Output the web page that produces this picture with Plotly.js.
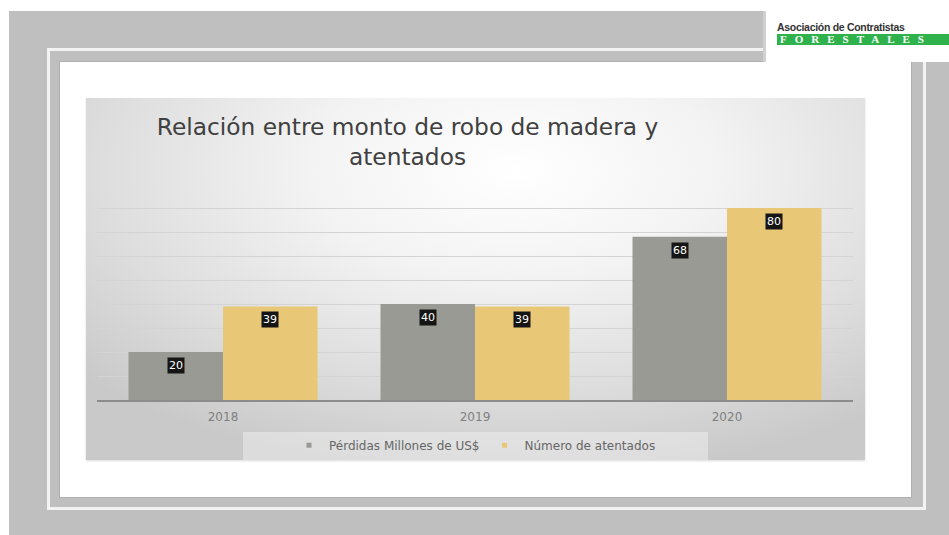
<!DOCTYPE html>
<html>
<head>
<meta charset="utf-8">
<script src="https://cdn.plot.ly/plotly-3.0.1.min.js"></script>
<style>
  html, body { margin:0; padding:0; background:#ffffff; width:949px; height:535px; overflow:hidden; }
  .abs { position:absolute; box-sizing:border-box; }
  #bg { left:9px; top:11px; right:0; bottom:0; background:#bfbfbf; }
  #outerline { left:47px; top:48px; width:879px; height:462px; border:3px solid #f3f3f3; }
  #inner { left:59px; top:61px; width:853px; height:437px; background:#ffffff; border:1px solid #b0b0b0; }
  #chartbox { left:86px; top:98px; width:779px; height:362px;
    background: radial-gradient(ellipse 75% 85% at 55% 20%, #ffffff 0%, #f3f3f3 35%, #dedede 70%, #c9c9c9 100%);
    box-shadow: 0 1px 2px rgba(0,0,0,0.15); }
  #legbox { left:243px; top:432px; width:465px; height:28px; background:rgba(255,255,255,0.35); }
  #logo { left:763px; top:11px; width:186px; height:51px; background:#ffffff; border-left:3px solid #d0d0d0; }
  #logo1 { left:777px; top:21px; font:bold 10.5px "Liberation Sans", Arial, sans-serif; line-height:12px; color:#333; white-space:nowrap; letter-spacing:-0.3px; }
  #logo2 { left:777px; top:34px; width:172px; height:11px; background:#2fb24c; color:#ffffff; font:bold 11px "Liberation Serif", serif; line-height:11px; letter-spacing:8px; white-space:nowrap; overflow:hidden; padding-left:3px; }
  #chart { position:absolute; left:0; top:0; width:949px; height:535px; }
</style>
</head>
<body>
<div class="abs" id="bg"></div>
<div class="abs" id="outerline"></div>
<div class="abs" id="inner"></div>
<div class="abs" id="chartbox"></div>
<div class="abs" id="legbox"></div>
<div class="abs" id="logo"></div>
<div class="abs" id="logo1">Asociación de Contratistas</div>
<div class="abs" id="logo2">FORESTALES</div>
<div id="chart"></div>
<script>
const years = ['2018', '2019', '2020'];
const perdidas = [20, 40, 68];
const atentados = [39, 39, 80];
const seriesNames = ['Pérdidas Millones de US$', 'Número de atentados'];
const titleText = 'Relación entre monto de robo de madera y<br>atentados';

const colGray = '#999a93';
const colYellow = '#e8c777';

const traces = [
  { type:'bar', x:years, y:perdidas, name:seriesNames[0], marker:{color:colGray}, showlegend:false, hoverinfo:'skip' },
  { type:'bar', x:years, y:atentados, name:seriesNames[1], marker:{color:colYellow}, showlegend:false, hoverinfo:'skip' },
  { type:'scatter', mode:'markers', x:[years[0]], y:[null], name:seriesNames[0], marker:{symbol:'square', size:5, color:colGray}, hoverinfo:'skip' },
  { type:'scatter', mode:'markers', x:[years[0]], y:[null], name:seriesNames[1], marker:{symbol:'square', size:5, color:colYellow}, hoverinfo:'skip' }
];

// data labels: annotations on the category axis use the category's serial index
const annotations = [];
function addLabels(vals, shift) {
  vals.forEach((v, i) => {
    annotations.push({
      x: i, y: v, xref:'x', yref:'y', text: String(v), showarrow:false,
      xshift: shift, yshift: -5, yanchor:'top', xanchor:'center',
      bgcolor:'#151515', borderpad:1,
      font:{family:'DejaVu Sans, sans-serif', size:11, color:'#ffffff'}
    });
  });
}
addLabels(perdidas, -47);
addLabels(atentados, 47);

const layout = {
  width:949, height:535,
  paper_bgcolor:'rgba(0,0,0,0)', plot_bgcolor:'rgba(0,0,0,0)',
  margin:{l:97, r:96, t:184, b:135},
  barmode:'group', bargap:0.25, bargroupgap:0,
  title:{ text:titleText, x:407.5/949, xref:'container', xanchor:'center',
          y:1-135/535, yref:'container', yanchor:'top',
          font:{family:'DejaVu Sans, sans-serif', size:23.3, color:'#404040'} },
  xaxis:{ type:'category', categoryarray:years, categoryorder:'array', range:[-0.5, 2.5],
          showgrid:false, zeroline:false, showline:true, linecolor:'#8c8c8c', linewidth:1.5,
          ticks:'', tickfont:{family:'DejaVu Sans, sans-serif', size:12, color:'#808080'}, ticklabelstandoff:5,
          fixedrange:true },
  yaxis:{ range:[0, 90], dtick:10, showticklabels:false, showgrid:true, gridcolor:'#d4d4d4', gridwidth:1,
          zeroline:false, ticks:'', fixedrange:true },
  legend:{ orientation:'h', x:0.5, xanchor:'center', y:-0.21, yanchor:'middle', bgcolor:'rgba(0,0,0,0)',
           font:{family:'DejaVu Sans, sans-serif', size:12, color:'#666666'}, itemwidth:30, traceorder:'normal' },
  annotations: annotations
};

Plotly.newPlot('chart', traces, layout, {staticPlot:true, displayModeBar:false});
</script>
</body>
</html>
